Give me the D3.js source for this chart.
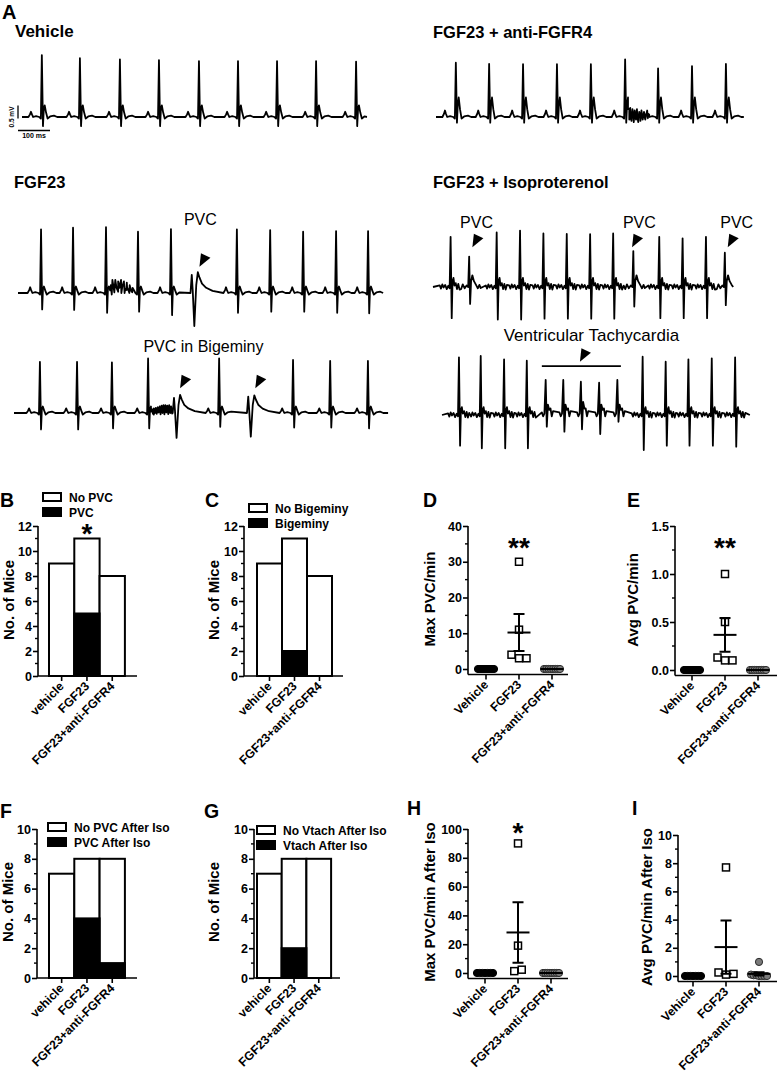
<!DOCTYPE html>
<html>
<head>
<meta charset="utf-8">
<script src="https://cdn.jsdelivr.net/npm/d3@7/dist/d3.min.js"></script>
<style>
  body { margin: 0; background: #fff; }
  svg { display: block; font-family: "Liberation Sans", Arial, Helvetica, sans-serif; }
</style>
</head>
<body>
<svg id="fig" width="777" height="1074"></svg>
<script>
// ---------- panel A: ECG beats  [time ms, shape, R mV, S mV, J mV] ----------
const vehicleBeats = [[62,'N',2.38,0.35,0.45],[181,'N',2.26,0.35,0.45],[306,'N',2.22,0.35,0.45],[428,'N',2.19,0.35,0.45],
  [553,'N',2.15,0.35,0.45],[675,'N',2.15,0.35,0.45],[797,'N',2.15,0.35,0.45],[919,'N',2.15,0.35,0.45],[1044,'N',2.13,0.35,0.45]]
const antiBeats = [[62,'N',2.09,0.22,0.75],[166,'N',2.04,0.22,0.75],[272,'N',2.03,0.22,0.75],[378,'N',2.03,0.22,0.75],
  [484,'N',2.03,0.22,0.75],[591,'N',2.22,0.22,0.75],[694,'N',1.87,0.22,0.75],[800,'N',1.96,0.22,0.75],[906,'N',2.04,0.22,0.75]]
const antiBurst = [[600,0.3],[604,-0.1],[607,0.35],[611,-0.15],[614,0.3],[618,-0.2],[621,0.25],[625,-0.1],[628,0.3],[632,-0.2],
  [635,0.2],[639,-0.15],[642,0.25],[646,-0.1],[650,0.2],[654,-0.1],[658,0.15],[662,-0.05],[666,0.1]]
const fgfBeats = [[72,'N',2.45,0.63,0.25],[172,'N',2.51,0.65,0.25],[275,'N',2.53,0.76,0.25],[375,'N',2.36,0.72,0.25],
  [478,'N',2.46,0.85,0.25],[543,'P',0.7,1.27,0.8],[684,'N',2.45,0.76,0.25],[788,'N',2.42,0.72,0.25],[891,'N',2.36,0.72,0.25],
  [994,'N',2.38,0.76,0.25],[1094,'N',2.38,0.78,0.25]]
const fgfBurst = [[290,0.3],[295,0.5],[299,0.2],[304,0.5],[308,0.2],[313,0.45],[317,0.2],[322,0.5],[326,0.25],[331,0.45],
  [335,0.15],[340,0.4],[344,0.15],[349,0.3],[353,0.1],[358,0.2]]
const bigemBeats = [[81,'N',1.97,0.63,0.25],[197,'N',1.97,0.63,0.25],[306,'N',1.95,0.59,0.25],[419,'N',2.1,0.59,0.25],
  [500,'P',0.58,0.96,0.7],[641,'N',2.1,0.53,0.25],[732,'P',0.63,0.91,0.68],[872,'N',2.04,0.56,0.25],[988,'N',2.0,0.56,0.25],
  [1106,'N',2.0,0.59,0.25]]
const bigemBurst = [[428,0.05],[431,0.15],[434,-0.02],[437,0.18],[440,0],[443,0.2],[446,-0.03],[449,0.22],[452,0.02],[455,0.25],
  [458,-0.05],[461,0.28],[464,0],[467,0.3],[470,-0.05],[473,0.3],[476,0.02],[479,0.28],[482,-0.04],[485,0.3],[488,0],[491,0.25],
  [494,-0.02],[497,0.15]]
const isoBeats = [[55,'W',1.93,1.2,0.35],[113,'Q',1.17,0.65,0.45],[199,'W',2.1,1.25,0.35],[272,'W',2.17,1.25,0.35],
  [345,'W',2.06,1.22,0.35],[418,'W',2.04,1.22,0.35],[491,'W',2.03,1.22,0.35],[563,'W',2.06,1.22,0.35],[626,'Q',1.38,0.75,0.45],
  [707,'W',1.93,1.2,0.35],[780,'W',1.87,1.2,0.35],[853,'W',1.93,1.2,0.35],[912,'Q',1.32,0.7,0.45]]
const vtBeats = [[53,'W',2.22,1.18,0.3],[121,'W',2.27,1.28,0.3],[194,'W',2.14,1.28,0.3],[265,'W',2.09,1.28,0.3],
  [324,'V',1.35,0.45,0.4],[379,'V',1.35,0.64,0.4],[434,'V',1.28,0.55,0.5],[491,'V',1.24,0.73,0.4],[548,'V',1.35,0.26,0.4],
  [627,'W',2.24,1.35,0.3],[699,'W',2.05,1.18,0.3],[770,'W',2.14,1.18,0.3],[843,'W',2.18,1.18,0.3],[916,'W',2.22,1.22,0.3]]

// beat outlines: [ms from R, amplitude key, multiplier]
const beatShapes = {
  N: [[-42,'z',0],[-37,'p',0.5],[-34,'p',1],[-31,'p',0.5],[-27,'z',0],[-18,'z',0.03],[-8,'z',0],[-3,'z',-0.06],[0,'r',1],
      [3.5,'s',-1],[6,'j',0.6],[9,'j',1],[13,'j',0.4],[18,'z',-0.06],[26,'z',0.02],[38,'z',0.05],[48,'z',0]],
  P: [[-4,'z',0],[0,'r',1],[3,'z',0.1],[8,'s',-1],[14,'z',0.3],[19,'j',1],[24,'j',0.75],[32,'j',0.45],[45,'j',0.25],[65,'j',0.1],[90,'z',0.02]],
  W: [[-34,'z',0.06],[-30,'z',-0.06],[-26,'z',0.1],[-22,'z',-0.02],[-17,'z',0.08],[-12,'z',-0.08],[-7,'z',0.05],[-3,'z',-0.05],
      [0,'r',1],[3.5,'s',-1],[6,'j',0.6],[9,'j',1],[12,'z',0.05],[16,'z',0.15],[20,'z',-0.08],[24,'z',0.12],[28,'z',-0.1],[32,'z',0.08]],
  Q: [[-30,'z',0.05],[-25,'z',-0.08],[-20,'z',0.1],[-14,'z',-0.05],[-8,'z',0.06],[-3,'z',0],[0,'r',1],[3,'s',-1],[6,'j',0.5],
      [10,'j',1],[15,'j',0.5],[21,'j',0.2],[27,'z',-0.05],[32,'z',0.08],[36,'z',-0.04]],
  V: [[-12,'z',0.1],[-8,'z',-0.05],[-4,'z',0.05],[0,'r',1],[3.5,'s',-1],[7,'j',1],[11,'j',0.5],[15,'z',0.25],[19,'z',-0.05],[23,'z',0.15]]
}

// ---------- panels B-I ----------
const barGroups = ['vehicle', 'FGF23', 'FGF23+anti-FGFR4']
const dotGroups = ['Vehicle', 'FGF23', 'FGF23+anti-FGFR4']
const pvcMice = [9, 11, 8], pvcYes = [0, 5, 0]
const bigemMice = [9, 11, 8], bigemYes = [0, 2, 0]
const isoPvcMice = [7, 8, 8], isoPvcYes = [0, 4, 1]
const vtachMice = [7, 8, 8], vtachYes = [0, 2, 0]
const maxPvc = [[0,0,0,0,0,0,0,0,0], [30,11,4,3,3], [0,0,0,0,0,0,0,0]]
const avgPvc = [[0,0,0,0,0,0,0,0,0], [1.0,0.5,0.13,0.1,0.1], [0,0,0,0,0,0,0,0]]
const maxPvcIso = [[0,0,0,0,0,0,0], [90,19,1.3,2.3], [0,0,0,0,0,0,0,0]]
const avgPvcIso = [[0,0,0,0,0,0,0], [7.7,0.25,0.1,0.15], [1.0,0.1,0.05,0.05,0,0,0,0]]

const svg = d3.select('#fig')

function label(x, y, s, size, bold = true, anchor = 'start') {
  return svg.append('text').attr('x', x).attr('y', y).text(s)
    .attr('font-size', size).attr('font-weight', bold ? 'bold' : 'normal')
    .attr('text-anchor', anchor).attr('fill', '#000')
}

function drawTrace(tr) {
  const x = d3.scaleLinear().domain([0, 100]).range([tr.x0, tr.x0 + 32])
  const y = d3.scaleLinear().domain([0, 1]).range([tr.base, tr.base - 26])
  const n = tr.beats.length
  const pts = [[0, 0]]
  tr.beats.forEach((b, i) => {
    const lo = i ? (tr.beats[i - 1][0] + b[0]) / 2 : 0
    const hi = i < n - 1 ? (tr.beats[i + 1][0] + b[0]) / 2 : tr.end
    beatShapes[b[1]].forEach(([dt, k, m]) => {
      const t = b[0] + dt
      if (t <= lo || t > hi) return
      const amp = k === 'z' ? 1 : k === 'r' ? b[2] : k === 's' ? b[3] : k === 'j' ? b[4] : tr.p
      pts.push([t, m * amp])
    })
  })
  ;(tr.burst || []).forEach(p => pts.push(p))
  pts.push([tr.end, 0])
  pts.sort((a, b) => a[0] - b[0])
  svg.append('path')
    .attr('d', d3.line().x(d => x(d[0])).y(d => y(d[1]))(pts))
    .attr('fill', 'none').attr('stroke', '#000').attr('stroke-width', 1.8)
    .attr('stroke-linejoin', 'round')
  return { x, y }
}

function arrowHead(sc, t, v) {
  svg.append('path').attr('d', 'M0,0L1.5,-13.5L11,-9Z').attr('fill', '#000')
    .attr('transform', `translate(${sc.x(t)},${sc.y(v)})`)
}

// panel A
label(2, 19, 'A', 20)
label(15, 37, 'Vehicle', 17)
label(433, 38, 'FGF23 + anti-FGFR4', 16.5)
label(14, 188, 'FGF23', 16.5)
label(433, 188, 'FGF23 + Isoproterenol', 16.5)

const vehSc = drawTrace({ beats: vehicleBeats, x0: 22, base: 117, end: 1078, p: 0.2 })
drawTrace({ beats: antiBeats, burst: antiBurst, x0: 436, base: 117, end: 962, p: 0.25 })
const fgfSc = drawTrace({ beats: fgfBeats, burst: fgfBurst, x0: 18, base: 293, end: 1141, p: 0.22 })
const bigSc = drawTrace({ beats: bigemBeats, burst: bigemBurst, x0: 14, base: 413, end: 1169, p: 0.18 })
const isoSc = drawTrace({ beats: isoBeats, x0: 433, base: 287, end: 938, p: 0 })
const vtSc = drawTrace({ beats: vtBeats, x0: 442, base: 415, end: 962, p: 0 })

// scale bar: 0.5 mV, 100 ms
const sbX = 18, sbY = 118.5
svg.append('path').attr('fill', 'none').attr('stroke', '#000').attr('stroke-width', 1.3)
  .attr('d', `M${sbX},${sbY}V${sbY - (vehSc.y(0) - vehSc.y(0.5))}M${sbX},${sbY + 12}H${sbX + vehSc.x(100) - vehSc.x(0)}`)
svg.append('text').attr('transform', `translate(13.5,117) rotate(-90)`).attr('text-anchor', 'middle')
  .attr('font-size', 6.5).attr('font-weight', 'bold').text('0.5 mV')
label(34, 137.5, '100 ms', 7, true, 'middle')

label(fgfSc.x(570), fgfSc.y(2.62), 'PVC', 16, false, 'middle')
arrowHead(fgfSc, 567, 1.01)
label(bigSc.x(592), bigSc.y(2.35), 'PVC in Bigeminy', 16, false, 'middle')
;[519, 754].forEach(t => arrowHead(bigSc, t, 0.95))
;[136, 645, 949].forEach(t => label(isoSc.x(t), isoSc.y(2.27), 'PVC', 16, false, 'middle'))
;[123, 622, 921].forEach(t => arrowHead(isoSc, t, 1.53))
label(vtSc.x(467), vtSc.y(2.85), 'Ventricular Tachycardia', 17, false, 'middle')
arrowHead(vtSc, 431, 2.05)
svg.append('line').attr('x1', vtSc.x(312)).attr('x2', vtSc.x(559)).attr('y1', vtSc.y(1.88)).attr('y2', vtSc.y(1.88))
  .attr('stroke', '#000').attr('stroke-width', 1.8)

// ---------- shared axis pieces ----------
function yAxis(g, y, o, yEnd) {
  const ax = g.append('g').attr('transform', `translate(${o.ax},0)`)
    .call(d3.axisLeft(y).tickValues(d3.range(0, o.yMax + 1e-9, o.major)).tickSize(5).tickSizeOuter(0)
      .tickPadding(1).tickFormat(o.fmt || d3.format('d')))
  ax.attr('font-size', 12.5).attr('font-weight', 'bold').attr('font-family', null)
  ax.select('.domain').remove()
  ax.selectAll('line').attr('stroke', '#000').attr('stroke-width', 1.6)
  ax.selectAll('text').attr('fill', '#000')
  g.append('line').attr('x1', o.ax).attr('x2', o.ax).attr('y1', y(o.yMax)).attr('y2', yEnd)
    .attr('stroke', '#000').attr('stroke-width', 1.6)
  const minors = d3.range(0, o.yMax, o.minor).filter(v => Math.abs(v / o.major - Math.round(v / o.major)) > 1e-6)
  g.selectAll('line.minor').data(minors).join('line').attr('class', 'minor')
    .attr('x1', o.ax - 3).attr('x2', o.ax).attr('y1', d => y(d)).attr('y2', d => y(d))
    .attr('stroke', '#000').attr('stroke-width', 1.4)
  svg.append('text').attr('transform', `translate(${o.ylx},${o.yly}) rotate(-90)`).attr('text-anchor', 'middle')
    .attr('dy', '0.35em').attr('font-size', 15).attr('font-weight', 'bold').text(o.ylab)
  label(o.lx, o.ly, o.letter, 19.5)
}

function xAxis(g, cx, groups, axY, o) {
  g.append('line').attr('x1', o.ax).attr('x2', o.xEnd).attr('y1', axY).attr('y2', axY)
    .attr('stroke', '#000').attr('stroke-width', 1.6)
  g.selectAll('line.xt').data(groups).join('line').attr('class', 'xt')
    .attr('x1', d => cx(d)).attr('x2', d => cx(d)).attr('y1', axY).attr('y2', axY + 5)
    .attr('stroke', '#000').attr('stroke-width', 1.6)
  g.selectAll('text.xl').data(groups).join('text').attr('class', 'xl')
    .attr('transform', d => `translate(${cx(d) + 3},${axY + 11}) rotate(-45)`)
    .attr('text-anchor', 'end').attr('font-size', 12.2).attr('font-weight', 'bold').text(d => d)
}

function barPanel(o) {
  const g = svg.append('g')
  const y = d3.scaleLinear().domain([0, o.yMax]).range([o.yBase, o.yTop])
  const x = d3.scaleBand().domain(barGroups).range([o.bx, o.bx + 3 * o.bw])
  g.selectAll('rect.tot').data(o.total).join('rect').attr('class', 'tot')
    .attr('x', (d, i) => x(barGroups[i])).attr('y', d => y(d))
    .attr('width', x.bandwidth()).attr('height', d => y(0) - y(d))
    .attr('fill', '#fff').attr('stroke', '#000').attr('stroke-width', 2)
  g.selectAll('rect.yes').data(o.yes.map((v, i) => [v, i]).filter(d => d[0] > 0)).join('rect').attr('class', 'yes')
    .attr('x', d => x(barGroups[d[1]])).attr('y', d => y(d[0]))
    .attr('width', x.bandwidth()).attr('height', d => y(0) - y(d[0]))
    .attr('fill', '#000').attr('stroke', '#000').attr('stroke-width', 2)
  yAxis(g, y, o, y(0))
  xAxis(g, d => x(d) + x.bandwidth() / 2, barGroups, y(0), o)
  o.sig.forEach((s, i) => {
    if (s) label(x(barGroups[i]) + x.bandwidth() / 2, y(o.total[i]) + o.sigDy, s, 28, true, 'middle')
  })
  o.legend.forEach((s, i) => {
    g.append('rect').attr('x', o.lgx).attr('y', o.lgy + i * 15).attr('width', 18).attr('height', 8)
      .attr('fill', i ? '#000' : '#fff').attr('stroke', '#000').attr('stroke-width', 2)
    label(o.lgx + 26, o.lgy + i * 15 + 9, s, 12)
  })
}

function dotPanel(o) {
  const g = svg.append('g')
  const y = d3.scaleLinear().domain([0, o.yMax]).range([o.yBase, o.yTop])
  const x = d3.scalePoint().domain(dotGroups).range([o.ax + o.off, o.ax + o.off + 66])
  const axY = y(0) + 5.5
  yAxis(g, y, o, axY)
  xAxis(g, x, dotGroups, axY, o)
  o.values.forEach((vals, gi) => {
    // spread overlapping points sideways
    const clusters = []
    vals.forEach(v => {
      const c = clusters.find(c => Math.abs(y(c.v) - y(v)) < 6)
      if (c) c.items.push(v); else clusters.push({ v, items: [v] })
    })
    const pts = []
    clusters.forEach(c => {
      const k = c.items.length, step = k > 3 ? Math.min(7.5, 16 / (k - 1)) : 7.5
      c.items.forEach((v, j) => pts.push([x(dotGroups[gi]) + (j - (k - 1) / 2) * step, y(v)]))
    })
    if (gi === 1) {
      g.selectAll(null).data(pts).join('rect').attr('x', d => d[0] - 3.5).attr('y', d => d[1] - 3.5)
        .attr('width', 7).attr('height', 7).attr('fill', '#fff').attr('stroke', '#000').attr('stroke-width', 1.5)
    } else {
      g.selectAll(null).data(pts).join('circle').attr('cx', d => d[0]).attr('cy', d => d[1]).attr('r', 3.6)
        .attr('fill', gi ? '#7a7a7a' : '#000').attr('stroke', gi ? '#2a2a2a' : '#000').attr('stroke-width', 1)
    }
    const m = d3.mean(vals), sem = d3.deviation(vals) / Math.sqrt(vals.length)
    const cx = x(dotGroups[gi])
    g.append('line').attr('x1', cx - 11.5).attr('x2', cx + 11.5).attr('y1', y(m)).attr('y2', y(m))
      .attr('stroke', '#000').attr('stroke-width', 2)
    if (sem > 0) {
      g.append('path').attr('fill', 'none').attr('stroke', '#000').attr('stroke-width', 2)
        .attr('d', `M${cx},${y(m - sem)}V${y(m + sem)}M${cx - 5.5},${y(m + sem)}H${cx + 5.5}M${cx - 5.5},${y(m - sem)}H${cx + 5.5}`)
    }
    if (o.sig[gi]) label(cx, o.sigY, o.sig[gi], 28, true, 'middle')
  })
}

barPanel({ ax: 38, bx: 49, bw: 25.3, yBase: 676, yTop: 526, yMax: 12, major: 2, minor: 1, xEnd: 137,
  total: pvcMice, yes: pvcYes, sig: ['', '*', ''], sigDy: 4, legend: ['No PVC', 'PVC'], lgx: 43, lgy: 493,
  ylab: 'No. of Mice', ylx: 9, yly: 600, letter: 'B', lx: 0, ly: 507 })
barPanel({ ax: 244, bx: 257, bw: 25, yBase: 676, yTop: 526, yMax: 12, major: 2, minor: 1, xEnd: 343,
  total: bigemMice, yes: bigemYes, sig: ['', '', ''], legend: ['No Bigeminy', 'Bigeminy'], lgx: 249, lgy: 504,
  ylab: 'No. of Mice', ylx: 214, yly: 600, letter: 'C', lx: 205, ly: 507 })
dotPanel({ ax: 468, off: 18, yBase: 669, yTop: 526, yMax: 40, major: 10, minor: 5, xEnd: 568,
  values: maxPvc, sig: ['', '**', ''], sigY: 557,
  ylab: 'Max PVC/min', ylx: 430, yly: 599, letter: 'D', lx: 423, ly: 507 })
dotPanel({ ax: 675, off: 17, yBase: 670, yTop: 526, yMax: 1.5, major: 0.5, minor: 0.25, xEnd: 777, fmt: d3.format('.1f'),
  values: avgPvc, sig: ['', '**', ''], sigY: 557,
  ylab: 'Avg PVC/min', ylx: 633, yly: 600, letter: 'E', lx: 627, ly: 507 })
barPanel({ ax: 37, bx: 49, bw: 25.3, yBase: 978, yTop: 829, yMax: 10, major: 2, minor: 1, xEnd: 137,
  total: isoPvcMice, yes: isoPvcYes, sig: ['', '', ''], legend: ['No PVC After Iso', 'PVC After Iso'], lgx: 48, lgy: 823,
  ylab: 'No. of Mice', ylx: 8, yly: 902, letter: 'F', lx: 0, ly: 818 })
barPanel({ ax: 254, bx: 257, bw: 24.7, yBase: 978, yTop: 829, yMax: 10, major: 2, minor: 1, xEnd: 340,
  total: vtachMice, yes: vtachYes, sig: ['', '', ''], legend: ['No Vtach After Iso', 'Vtach After Iso'], lgx: 257, lgy: 826,
  ylab: 'No. of Mice', ylx: 214, yly: 902, letter: 'G', lx: 204, ly: 818 })
dotPanel({ ax: 468, off: 17, yBase: 973, yTop: 829, yMax: 100, major: 20, minor: 10, xEnd: 568,
  values: maxPvcIso, sig: ['', '*', ''], sigY: 842,
  ylab: 'Max PVC/min After Iso', ylx: 430, yly: 902, letter: 'H', lx: 407, ly: 815 })
dotPanel({ ax: 678, off: 15, yBase: 976, yTop: 835, yMax: 10, major: 2, minor: 1, xEnd: 777,
  values: avgPvcIso, sig: ['', '', ''], sigY: 0,
  ylab: 'Avg PVC/min After Iso', ylx: 647, yly: 907, letter: 'I', lx: 632, ly: 815 })
</script>
</body>
</html>
